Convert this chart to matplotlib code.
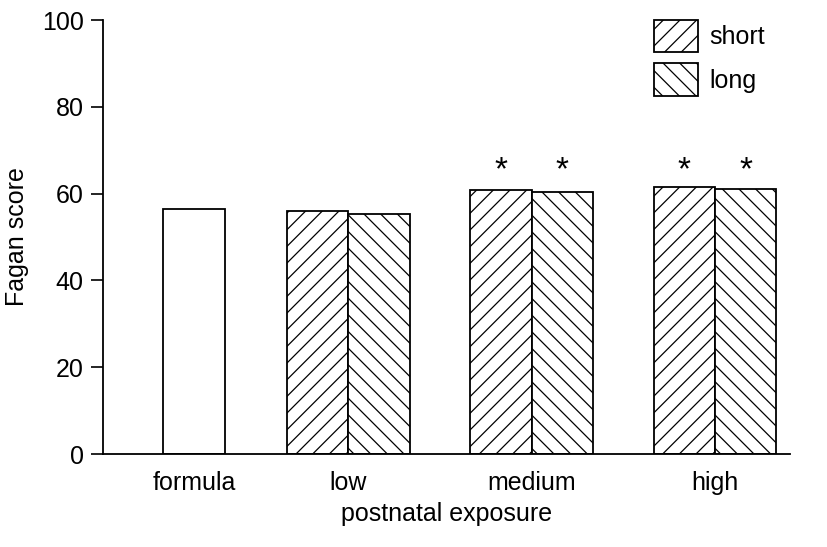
import matplotlib
matplotlib.use('Agg')
import matplotlib.pyplot as plt
from matplotlib.patches import Patch

# data
categories = ['formula', 'low', 'medium', 'high']
formula_score = 56.4
short_scores = [55.9, 60.9, 61.6]   # low, medium, high
long_scores = [55.4, 60.4, 61.0]
significant = [False, True, True]   # star above both bars
series_labels = ['short', 'long']

plt.rcParams['font.family'] = ['Liberation Sans', 'DejaVu Sans']
plt.rcParams['hatch.linewidth'] = 0.9

fig = plt.figure(figsize=(8.28, 5.47), dpi=100)
ax = fig.add_axes([0.1244, 0.170, 0.830, 0.7934])

width = 0.335
group_pos = [0.84, 1.84, 2.84]
fs = 18

ax.bar(0, formula_score, width, color='white', edgecolor='black', linewidth=1.3)
ax.bar([p - width / 2 for p in group_pos], short_scores, width, color='white',
       edgecolor='black', linewidth=1.3, hatch='//')
ax.bar([p + width / 2 for p in group_pos], long_scores, width, color='white',
       edgecolor='black', linewidth=1.3, hatch='\\\\')

for p, sig in zip(group_pos, significant):
    if not sig:
        continue
    for dx in (-width / 2, width / 2):
        ax.text(p + dx, 65.3, '*', ha='center', va='center', fontsize=24)

ax.set_xlim(-0.496, 3.25)
ax.set_ylim(0, 100)
ax.set_yticks([0, 20, 40, 60, 80, 100])
ax.set_xticks([0] + group_pos)
ax.set_xticklabels(categories)
ax.tick_params(axis='y', length=9, width=1.2, labelsize=fs, pad=5)
ax.tick_params(axis='x', length=0, labelsize=fs, pad=12)
ax.spines['top'].set_visible(False)
ax.spines['right'].set_visible(False)
ax.spines['left'].set_linewidth(1.3)
ax.spines['bottom'].set_linewidth(1.3)
ax.set_xlabel('postnatal exposure', fontsize=fs, labelpad=5)
ax.set_ylabel('Fagan score', fontsize=fs, labelpad=9)

handles = [Patch(facecolor='white', edgecolor='black', hatch='//', linewidth=1.3),
           Patch(facecolor='white', edgecolor='black', hatch='\\\\', linewidth=1.3)]
ax.legend(handles, series_labels, loc='upper left', frameon=False, fontsize=fs,
          handlelength=1.75, handleheight=1.6, labelspacing=0.45,
          handletextpad=0.45, borderpad=0, borderaxespad=0,
          bbox_to_anchor=((654 - 103) / 687, 1.0))

fig.savefig('out.png', dpi=100)
